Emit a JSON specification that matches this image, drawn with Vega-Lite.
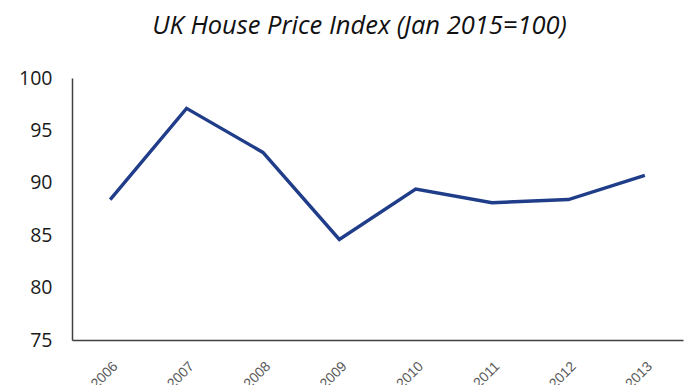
{
  "$schema": "https://vega.github.io/schema/vega-lite/v6.json",
  "autosize": {"type": "none"},
  "width": 611,
  "height": 262,
  "padding": {"left": 72, "top": 78, "right": 13, "bottom": 45},
  "background": "white",
  "title": {
    "text": "UK House Price Index (Jan 2015=100)",
    "font": "Open Sans",
    "fontStyle": "italic",
    "fontWeight": "normal",
    "fontSize": 25.5,
    "color": "#111111",
    "anchor": "middle",
    "dx": -18,
    "offset": 29
  },
  "config": {"view": {"stroke": null}},
  "data": {
    "values": [
      {"year": "2006", "index": 88.4},
      {"year": "2007", "index": 97.1},
      {"year": "2008", "index": 92.9},
      {"year": "2009", "index": 84.6},
      {"year": "2010", "index": 89.4},
      {"year": "2011", "index": 88.1},
      {"year": "2012", "index": 88.4},
      {"year": "2013", "index": 90.7}
    ]
  },
  "mark": {"type": "line", "color": "#203d8a", "strokeWidth": 3.4},
  "encoding": {
    "x": {
      "field": "year",
      "type": "ordinal",
      "scale": {"type": "point", "padding": 0.5},
      "axis": {
        "title": null,
        "labelAngle": -45,
        "labelFont": "Liberation Sans",
        "labelFontSize": 14,
        "labelColor": "#595959",
        "ticks": false,
        "labelPadding": 19,
        "domainColor": "#404040",
        "domainWidth": 1.5,
        "grid": false
      }
    },
    "y": {
      "field": "index",
      "type": "quantitative",
      "scale": {"domain": [75, 100], "nice": false, "zero": false},
      "axis": {
        "title": null,
        "values": [75, 80, 85, 90, 95, 100],
        "labelFont": "Open Sans",
        "labelFontSize": 19.5,
        "labelColor": "#1a1a1a",
        "ticks": false,
        "labelPadding": 20,
        "domainColor": "#404040",
        "domainWidth": 1.5,
        "grid": false
      }
    }
  }
}
